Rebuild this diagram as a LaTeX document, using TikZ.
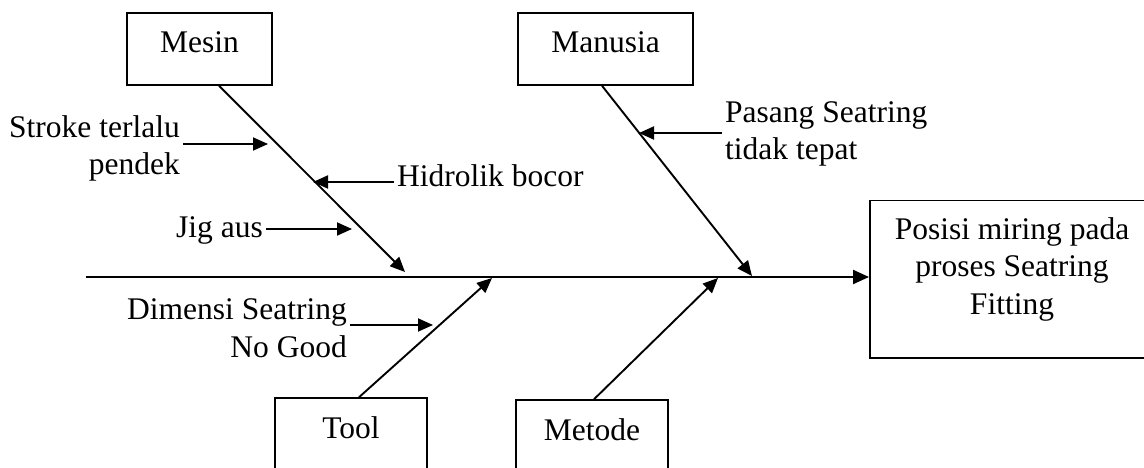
\documentclass[tikz,border=0pt]{standalone}
\usepackage{fontspec}
\setmainfont{Liberation Serif}
\usetikzlibrary{arrows.meta}
\tikzset{
  every node/.style={font=\fontsize{31.5}{37.5}\selectfont},
  box/.style={draw, line width=1.5pt, inner xsep=0pt, inner ysep=0pt, text height=40pt, text depth=32pt},
  bone/.style={line width=1.9pt, -{Triangle[length=15pt,width=13pt]}},
  spineline/.style={line width=2.2pt, -{Triangle[length=16pt,width=14pt]}},
  cause/.style={inner sep=3pt},
  causearrow/.style={line width=1.9pt, -{Triangle[length=15pt,width=13pt]}}
}
\begin{document}
\begin{tikzpicture}[x=1pt,y=-1pt]
\fill[white] (0,0) rectangle (1144,468);
\clip (0,0) rectangle (1144,468);

% category boxes
\node[box, minimum width=145pt, anchor=base] (mesin) at (199.5,53) {Mesin};
\node[box, minimum width=175pt, anchor=base] (manusia) at (605.5,53) {Manusia};
\node[box, minimum width=152pt, text depth=42pt, anchor=base] (tool) at (351,438) {Tool};
\node[box, minimum width=152pt, text depth=42pt, anchor=base] (metode) at (592,440) {Metode};

% effect box
\node[draw, line width=1.5pt, minimum width=287pt, minimum height=157pt, inner sep=0pt, anchor=north west] (effect) at (869,200) {};
\node[align=center, anchor=base, inner sep=0pt] (effecttext) at (1012,314) {Posisi miring pada\\proses Seatring\\Fitting};

% spine
\coordinate (tail) at (86,277);
\draw[spineline] (tail) -- (tail -| effect.west);

% branch tips
\coordinate (mtip) at (405,272);
\coordinate (htip) at (752,276);
\coordinate (ttip) at (492,278);
\coordinate (otip) at (718,278);

\draw[bone] ([xshift=19.5pt]mesin.south) -- (mtip);
\draw[bone] ([xshift=-3.5pt]manusia.south) -- (htip);
\draw[bone] ([xshift=8pt]tool.north) -- (ttip);
\draw[bone] ([xshift=2pt]metode.north) -- (otip);

% causes
\node[cause, align=right, anchor=base east] (stroke) at (183,175) {Stroke terlalu\\pendek};
\coordinate (s1) at (268,144);
\draw[causearrow] (stroke.east |- s1) -- (s1);

\node[cause, anchor=base west] (hidrolik) at (394,187) {Hidrolik bocor};
\coordinate (h1) at (313,182);
\draw[causearrow] (hidrolik.west |- h1) -- (h1);

\node[cause, anchor=base east] (jig) at (266,237) {Jig aus};
\coordinate (j1) at (352,229);
\draw[causearrow] (jig.east |- j1) -- (j1);

\node[cause, align=right, anchor=base east] (dimensi) at (350,357) {Dimensi Seatring\\No Good};
\coordinate (d1) at (433,325);
\draw[causearrow] (dimensi.east |- d1) -- (d1);

\node[cause, align=left, anchor=base west] (pasang) at (722,160) {Pasang Seatring\\tidak tepat};
\coordinate (p1) at (639,133);
\draw[causearrow] (pasang.west |- p1) -- (p1);
\end{tikzpicture}
\end{document}
